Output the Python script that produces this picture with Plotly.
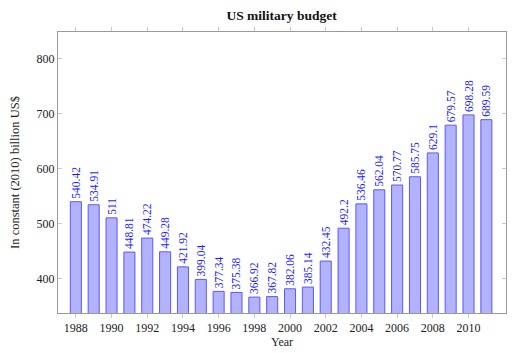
import plotly.graph_objects as go

years = list(range(1988, 2012))
budget = [540.42, 534.91, 511, 448.81, 474.22, 449.28, 421.92, 399.04, 377.34, 375.38,
          366.92, 367.82, 382.06, 385.14, 432.45, 492.2, 536.46, 562.04, 570.77, 585.75,
          629.1, 679.57, 698.28, 689.59]
labels = [f"{v:g}" for v in budget]
xticks = list(range(1988, 2012, 2))
yticks = [400, 500, 600, 700, 800]

font = "Liberation Serif, DejaVu Serif, serif"

fig = go.Figure(go.Bar(
    x=years, y=budget, width=0.62,
    marker=dict(color="rgb(178,178,255)", line=dict(color="rgb(90,90,255)", width=1)),
    text=labels, textposition="outside", textangle=-90,
    textfont=dict(color="rgb(30,30,255)", size=11.5, family=font),
    cliponaxis=False,
))

fig.update_layout(
    width=512, height=353,
    margin=dict(l=58, r=6, t=32, b=40),
    plot_bgcolor="white", paper_bgcolor="white",
    font=dict(family=font, size=12, color="#222"),
    title=dict(text="<b>US military budget</b>", x=0.55, xanchor="center", y=0.957, yanchor="middle",
               font=dict(size=13.5, family=font, color="#111")),
    showlegend=False,
    uniformtext=dict(minsize=11.5, mode="show"),
)
fig.update_xaxes(
    range=[1987.0, 2012.1], tickvals=xticks, ticktext=[str(t) for t in xticks],
    ticks="outside", ticklen=4, tickcolor="#c8c8c8", showgrid=False,
    showline=True, linecolor="#999", linewidth=1, mirror="ticks",
    tickfont=dict(size=12),
    title=dict(text="Year", standoff=1, font=dict(size=12, family=font)),
    zeroline=False,
)
fig.update_yaxes(
    range=[338, 849], tickvals=yticks, ticks="inside", ticklen=4, tickcolor="#c8c8c8",
    showgrid=False, showline=True, linecolor="#999", linewidth=1, mirror="ticks",
    tickfont=dict(size=12),
    title=dict(text="In constant (2010) billion US$", standoff=14, font=dict(size=12.5, family=font)),
    zeroline=False,
)

fig.write_html("out.html")
